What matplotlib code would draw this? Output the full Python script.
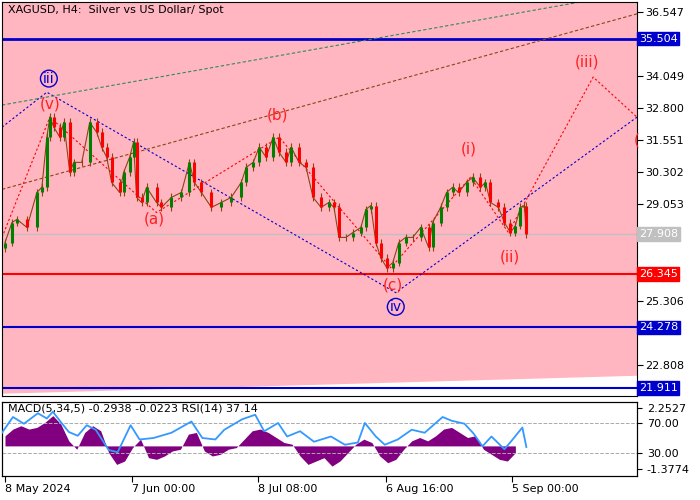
import matplotlib
matplotlib.use("Agg")
import matplotlib.pyplot as plt
import numpy as np

# ---- price data (bar position, close) ----
bars = [3,10,15,25,35,40,45,48,52,58,62,68,72,80,88,95,100,105,110,118,122,128,132,135,140,145,155,160,170,180,188,193,200,210,220,230,240,245,252,258,265,272,278,285,290,298,305,312,320,328,333,338,345,352,360,365,370,375,380,386,392,398,405,412,420,428,432,440,446,452,458,466,472,480,485,490,498,504,510,515,520,524,526]
closes = [27.57,28.35,28.47,28.16,29.52,29.72,31.67,32.45,32.06,31.67,32.25,30.30,30.69,30.69,32.25,31.86,31.28,30.89,29.91,29.52,30.30,30.89,31.47,29.33,29.13,29.72,29.13,28.94,29.33,29.52,30.69,29.91,29.52,28.94,29.13,29.33,29.91,30.50,30.69,31.28,30.89,31.67,31.08,30.69,31.28,30.69,30.50,29.33,28.94,29.13,28.94,27.77,27.77,27.96,28.16,28.86,29.01,27.57,26.98,26.59,26.79,27.57,27.77,27.77,28.16,27.38,28.35,28.94,29.52,29.72,29.52,29.91,30.11,29.72,29.91,29.13,28.94,28.35,27.96,28.23,28.94,29.01,27.91]

# wave paths
red_x = [0,48,155,278,390,470,508,593,637]
red_y = [27.77,32.45,28.74,31.67,26.59,30.11,27.96,34.01,32.45]
blue_x = [0,45,395,637]
blue_y = [32.06,33.42,25.62,32.45]
green_x = [0,593]; green_y = [32.92,37.02]
brown_x = [0,637]; brown_y = [29.64,36.47]

levels = [35.504, 27.908, 26.345, 24.278, 21.911]
level_colors = ['#0000cc', '#c0c0c0', '#ff0000', '#0000cc', '#0000cc']
tick_vals = [36.547,34.049,32.800,31.551,30.302,29.053,25.306,22.808]

# MACD histogram
hist_x = [3,11,19,27,35,43,51,59,67,75,83,91,99,107,115,123,131,139,147,155,163,171,179,187,195,203,211,219,227,235,243,251,259,267,275,283,291,299,307,315,323,331,339,347,355,363,371,379,387,395,403,411,419,427,435,443,451,459,467,475,483,491,499,507,515]
hist_v = [0.6,1.0,1.2,1.0,1.1,1.4,1.8,1.3,0.3,-0.2,0.8,1.2,0.9,-0.4,-1.1,-0.9,-0.1,0.4,-0.7,-0.8,-0.6,-0.3,-0.2,0.7,0.8,-0.3,-0.6,-0.5,-0.2,-0.1,0.4,0.9,1.0,0.8,0.5,0.2,0.1,-0.6,-1.1,-0.9,-0.7,-1.2,-0.9,-0.4,0.1,0.4,0.2,-0.6,-1.0,-0.8,-0.2,0.3,0.5,0.3,0.6,1.0,1.1,0.8,0.5,0.6,-0.2,-0.5,-0.8,-0.9,-0.4]
rsi_x = [0,11,22,36,45,51,58,67,76,85,94,107,116,129,138,152,170,190,201,214,223,241,254,263,277,286,299,313,330,344,357,364,375,384,397,411,424,442,451,464,473,482,491,504,511,522,526]
rsi_v = [57,78,69,83,76,85,73,58,53,67,61,34,31,67,48,50,57,72,50,48,61,75,81,59,70,52,59,45,52,41,44,70,52,41,48,61,57,78,73,69,56,39,52,35,46,64,38]

xticks = [3,130,257,385,512]
xlabels = ['8 May 2024','7 Jun 00:00','8 Jul 08:00','6 Aug 16:00','5 Sep 00:00']

PINK = '#ffb6c1'
fig = plt.figure(figsize=(7,5), dpi=100)
ax = fig.add_axes([2/700, 104/500, 635/700, 394/500])
ax.set_facecolor(PINK)
ax.set_xlim(0, 637)
ylo, yhi = 21.60, 36.93
ax.set_ylim(ylo, yhi)
ax.fill_between([0,637],[21.68,22.38],[ylo,ylo], color='white', zorder=0.5)

for i, (x, c) in enumerate(zip(bars, closes)):
    o = closes[i-1] if i > 0 else c - 0.2
    col = '#008000' if c >= o else '#ff0000'
    ax.vlines(x, min(o,c)-0.15, max(o,c)+0.15, color='#8b4513', lw=0.8, zorder=3)
    ax.vlines(x, min(o,c), max(o,c), color=col, lw=2.2, zorder=3)
ax.plot(bars, closes, color='#8b4513', lw=0.8, zorder=2.8)

ax.plot(red_x, red_y, color='#ff0000', ls=(0,(2,2)), lw=0.8, zorder=2)
ax.plot(blue_x, blue_y, color='#0000cc', ls=(0,(2,2)), lw=0.8, zorder=2)
ax.plot(green_x, green_y, color='#2e8b57', ls=(0,(3,2)), lw=0.8, zorder=2)
ax.plot(brown_x, brown_y, color='#8b4513', ls=(0,(3,2)), lw=0.8, zorder=2)

lws = [2, 1, 1.5, 1.5, 1.5]
for v, c, lw in zip(levels, level_colors, lws):
    ax.axhline(v, color=c, lw=lw, zorder=1.5)

red = '#ff2020'
for x, y, t in [(48,32.95,'(v)'),(153,28.5,'(a)'),(276,32.55,'(b)'),(392,25.9,'(c)'),(468,31.2,'(i)'),(509,27.0,'(ii)'),(587,34.6,'(iii)'),(637,31.55,'(')]:
    ax.text(x, y, t, color=red, fontsize=11, ha='center', va='center', zorder=5)
for x, y, t in [(47,33.95,'iii'),(395,25.07,'iv')]:
    ax.text(x, y, t, color='#0000cc', fontsize=10, ha='center', va='center', zorder=5,
            bbox=dict(boxstyle='circle,pad=0.1', fc='none', ec='#0000cc', lw=1))
ax.text(6, 36.6, 'XAGUSD, H4:  Silver vs US Dollar/ Spot', fontsize=8, va='center')

ax.yaxis.tick_right()
ax.set_yticks(tick_vals)
ax.set_yticklabels([f'{v:.3f}' for v in tick_vals], fontsize=8)
ax.set_xticks([])
ax.tick_params(axis='y', length=4, pad=2)
for v, c in zip(levels, level_colors):
    ax.text(1.003, v, f'{v:.3f}', transform=ax.get_yaxis_transform(), fontsize=8,
            color='white', va='center', ha='left', zorder=6,
            bbox=dict(boxstyle='square,pad=0.15', fc=c, ec=c), clip_on=False)

# MACD / RSI panel
ax2 = fig.add_axes([2/700, 24/500, 635/700, 74/500])
ax2.set_xlim(0, 637)
ax2.set_ylim(-1.79, 2.61)
ax2.fill_between(hist_x, 0, hist_v, color='#800080', lw=0, zorder=2)
ax3 = ax2.twinx()
ax3.set_ylim(-0.7, 98)
ax3.axhline(70, color='#aaaaaa', ls='--', lw=0.7)
ax3.axhline(30, color='#aaaaaa', ls='--', lw=0.7)
ax3.plot(rsi_x, rsi_v, color='#3399ff', lw=1.3, zorder=3)
ax3.set_yticks([70, 30])
ax3.set_yticklabels(['70.00', '30.00'], fontsize=8)
ax3.set_xlim(0, 637)
ax2.yaxis.tick_right()
ax2.set_yticks([2.2527, -1.3774])
ax2.set_yticklabels(['2.2527', '-1.3774'], fontsize=8)
ax2.set_xticks(xticks)
ax2.set_xticklabels(xlabels, fontsize=8, ha='left')
ax2.tick_params(axis='x', length=4, pad=2)
ax2.text(6, 2.2, 'MACD(5,34,5) -0.2938 -0.0223 RSI(14) 37.14', fontsize=8, va='center')

fig.savefig('out.png', dpi=100)
